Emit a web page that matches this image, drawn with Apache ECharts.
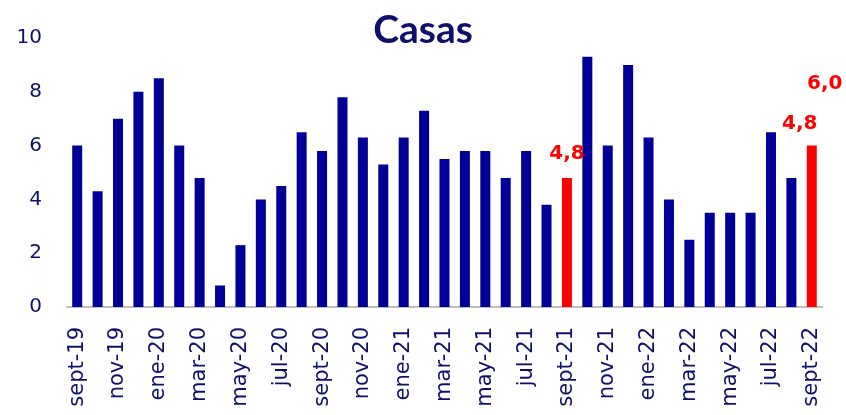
<!DOCTYPE html>
<html>
<head>
<meta charset="utf-8">
<script src="https://cdn.jsdelivr.net/npm/echarts@6/dist/echarts.min.js"></script>
<style>html,body{margin:0;padding:0;background:#fff;}#c{width:846px;height:415px;}</style>
</head>
<body>
<div id="c"></div>
<script>
const categories = ['sept-19','oct-19','nov-19','dic-19','ene-20','feb-20','mar-20','abr-20','may-20','jun-20','jul-20','ago-20','sept-20','oct-20','nov-20','dic-20','ene-21','feb-21','mar-21','abr-21','may-21','jun-21','jul-21','ago-21','sept-21','oct-21','nov-21','dic-21','ene-22','feb-22','mar-22','abr-22','may-22','jun-22','jul-22','ago-22','sept-22'];
const values = [6.0,4.3,7.0,8.0,8.5,6.0,4.8,0.8,2.3,4.0,4.5,6.5,5.8,7.8,6.3,5.3,6.3,7.3,5.5,5.8,5.8,4.8,5.8,3.8,4.8,9.3,6.0,9.0,6.3,4.0,2.5,3.5,3.5,3.5,6.5,4.8,6.0];
const highlighted = ['sept-21','sept-22'];
const labelCats = ['sept-21','sept-22','sept-22'];
const labelTexts = ['4,8','4,8','6,0'];
const labelOffsets = [[0,-24],[-12,-22],[13,-62]];
const yTicks = [0,2,4,6,8,10];

const navy = '#000099';
const red = '#FF0000';
const textNavy = '#10106A';

const barData = values.map((v,i)=>({
  value: v,
  itemStyle: { color: highlighted.includes(categories[i]) ? red : navy }
}));

const markData = labelCats.map((c,i)=>({
  coord: [c, values[categories.indexOf(c)]],
  symbolSize: 0,
  label: { show: true, formatter: labelTexts[i], position: 'inside', offset: labelOffsets[i],
           color: red, fontFamily: 'DejaVu Sans', fontWeight: 'bold', fontSize: 20 }
}));

const chart = echarts.init(document.getElementById('c'), null, {renderer:'canvas'});
chart.setOption({
  animation: false,
  backgroundColor: '#fff',
  title: {
    text: 'Casas', left: 'center', top: 6,
    textStyle: { fontFamily: 'Lato', fontWeight: 'bold', fontSize: 39, color: textNavy }
  },
  grid: { left: 67, right: 24, top: 38, bottom: 108, containLabel: false },
  xAxis: {
    type: 'category', data: categories,
    axisLine: { show: true, lineStyle: { color: '#BFBFBF', width: 2 } },
    axisTick: { show: false },
    axisLabel: { interval: 1, rotate: 90, margin: 20, fontFamily: 'DejaVu Sans', fontSize: 21, color: textNavy }
  },
  yAxis: {
    type: 'value', min: yTicks[0], max: yTicks[yTicks.length-1], interval: 2,
    axisLine: { show: false }, axisTick: { show: false }, splitLine: { show: false },
    axisLabel: { margin: 25, fontFamily: 'DejaVu Sans', fontSize: 20, color: textNavy }
  },
  series: [{
    type: 'bar', data: barData, barWidth: 10,
    markPoint: { symbol: 'circle', symbolSize: 0, data: markData, animation: false }
  }]
});
</script>
</body>
</html>
